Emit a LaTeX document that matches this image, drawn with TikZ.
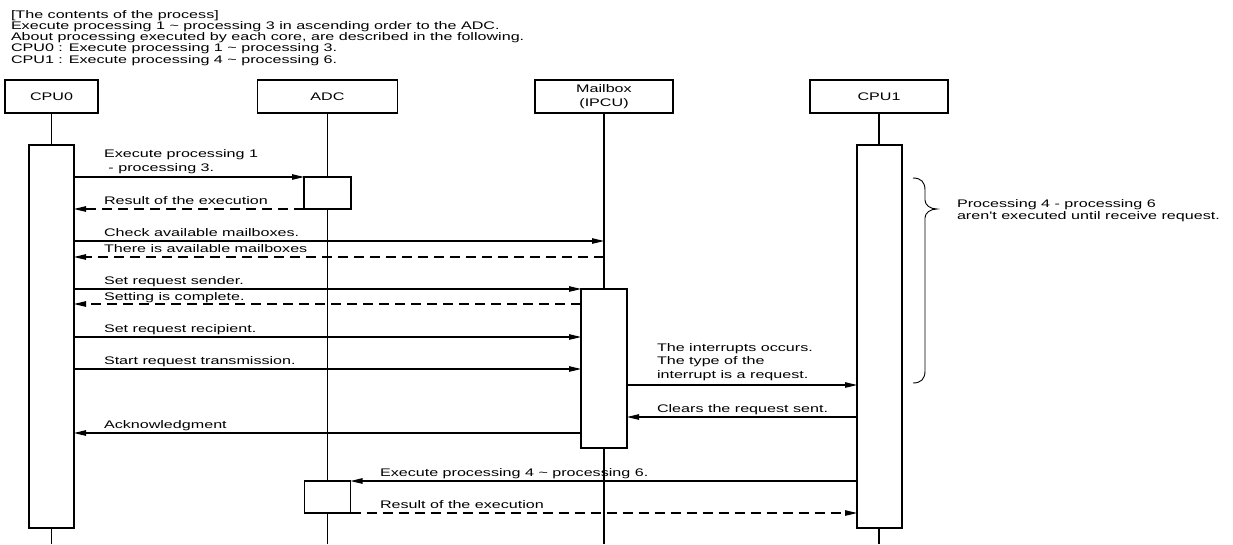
\documentclass[tikz,border=0pt]{standalone}
\usepackage{fontspec}
\newfontfamily\diagfont[FakeStretch=1.465]{Liberation Sans}
\usetikzlibrary{arrows.meta}
\begin{document}
\begin{tikzpicture}[x=1pt,y=-1pt,
  every node/.style={font=\diagfont\fontsize{11}{13.3}\selectfont, inner sep=0pt, outer sep=0pt},
  head/.style={draw, line width=1.1pt, fill=white, minimum height=33pt, align=center},
  bar/.style={draw, line width=1.1pt, fill=white},
  life/.style={line width=1.1pt},
  msg/.style={line width=1.1pt, -{Triangle[length=12pt,width=5.5pt]}},
  reply/.style={msg, dash pattern=on 10pt off 6pt},
  lbl/.style={anchor=base west, align=left},
  note/.style={anchor=base west, align=left, font=\diagfont\fontsize{11}{11.1}\selectfont},
]
\fill[white] (0,0) rectangle (1233,544);
\useasboundingbox (0,0) rectangle (1233,544);

% description of the process (anchored at the baseline of its last line)
\node[note] (desc) at (11,63) {[The contents of the process]\\
Execute processing 1 \textasciitilde\ processing 3 in ascending order to the ADC.\\
About processing executed by each core, are described in the following.\\
CPU0 : Execute processing 1 \textasciitilde\ processing 3.\\
CPU1 : Execute processing 4 \textasciitilde\ processing 6.};

% participants
\node[head, minimum width=93pt] (cpu0) at (51.5,96.5) {CPU0};
\node[head, minimum width=140pt] (adc) at (327.5,96.5) {ADC};
\node[head, minimum width=138pt, font=\diagfont\fontsize{11}{14}\selectfont] (mbox) at (604,96.5) {Mailbox\\(IPCU)};
\node[head, minimum width=138pt] (cpu1) at (879,96.5) {CPU1};

% lifelines
\coordinate (cpu0end) at (51.5,544);
\coordinate (adcend) at (327.5,544);
\coordinate (mboxend) at (604,544);
\coordinate (cpu1end) at (879,544);
\draw[life] (cpu0.south) -- (cpu0end);
\draw[life] (adc.south) -- (adcend);
\draw[life] (mbox.south) -- (mboxend);
\draw[life] (cpu1.south) -- (cpu1end);

% activation bars
\node[bar, minimum width=45pt, minimum height=383pt] (cpu0bar) at (51.5,336.5) {};
\node[bar, minimum width=45pt, minimum height=383pt] (cpu1bar) at (879.5,336.5) {};
\node[bar, minimum width=47pt, minimum height=32pt] (adcA) at (327.5,193) {};
\node[bar, minimum width=46pt, minimum height=32pt] (adcB) at (327.5,497) {};
\node[bar, minimum width=46pt, minimum height=159pt] (mboxbar) at (604,368.5) {};

% message levels
\coordinate (yChk) at (0,241);
\coordinate (yAvl) at (0,257);
\coordinate (yCmp) at (0,304);
\coordinate (yRcp) at (0,337);
\coordinate (yTx) at (0,369);
\coordinate (yIrq) at (0,385);
\coordinate (yClr) at (0,417);
\coordinate (yAck) at (0,433);

% messages
\draw[msg] (cpu0bar.east |- adcA.north west) -- (adcA.north west);
\draw[reply] (adcA.south west) -- (cpu0bar.east |- adcA.south west);
\draw[msg] (cpu0bar.east |- yChk) -- (mbox.south |- yChk);
\draw[reply] (mbox.south |- yAvl) -- (cpu0bar.east |- yAvl);
\draw[msg] (cpu0bar.east |- mboxbar.north west) -- (mboxbar.north west);
\draw[reply] (mboxbar.west |- yCmp) -- (cpu0bar.east |- yCmp);
\draw[msg] (cpu0bar.east |- yRcp) -- (mboxbar.west |- yRcp);
\draw[msg] (cpu0bar.east |- yTx) -- (mboxbar.west |- yTx);
\draw[msg] (mboxbar.east |- yIrq) -- (cpu1bar.west |- yIrq);
\draw[msg] (cpu1bar.west |- yClr) -- (mboxbar.east |- yClr);
\draw[msg] (mboxbar.west |- yAck) -- (cpu0bar.east |- yAck);
\draw[msg] (cpu1bar.west |- adcB.north east) -- (adcB.north east);
\draw[reply] (adcB.south east) -- (cpu1bar.west |- adcB.south east);

% message labels (multi-line ones anchored at their last baseline)
\node[lbl] (l1) at (104,171) {Execute processing 1\\\ - processing 3.};
\node[lbl] (l2) at (104,204) {Result of the execution};
\node[lbl] (l3) at (104,236) {Check available mailboxes.};
\node[lbl] (l4) at (104,252) {There is available mailboxes};
\node[lbl] (l5) at (104,284) {Set request sender.};
\node[lbl] (l6) at (104,300) {Setting is complete.};
\node[lbl] (l7) at (104,332) {Set request recipient.};
\node[lbl] (l8) at (104,364) {Start request transmission.};
\node[lbl] (l9) at (657,378) {The interrupts occurs.\\The type of the\\interrupt is a request.};
\node[lbl] (l10) at (657,412) {Clears the request sent.};
\node[lbl] (l11) at (104,428) {Acknowledgment};
\node[lbl] (l12) at (380,476) {Execute processing 4 \textasciitilde\ processing 6.};
\node[lbl] (l13) at (380,508) {Result of the execution};

% waiting period of CPU1
\draw[line width=0.9pt] (913,178) .. controls (921,178) and (925,182) .. (925,190)
  -- (925,200) .. controls (925,205) and (930,209) .. (937,209)
  .. controls (930,209) and (925,213) .. (925,218)
  -- (925,371) .. controls (925,379) and (921,383) .. (913,383);
\node[lbl, font=\diagfont\fontsize{11}{12}\selectfont] (wait) at (957,219) {Processing 4 - processing 6\\aren't executed until receive request.};
\end{tikzpicture}
\end{document}
